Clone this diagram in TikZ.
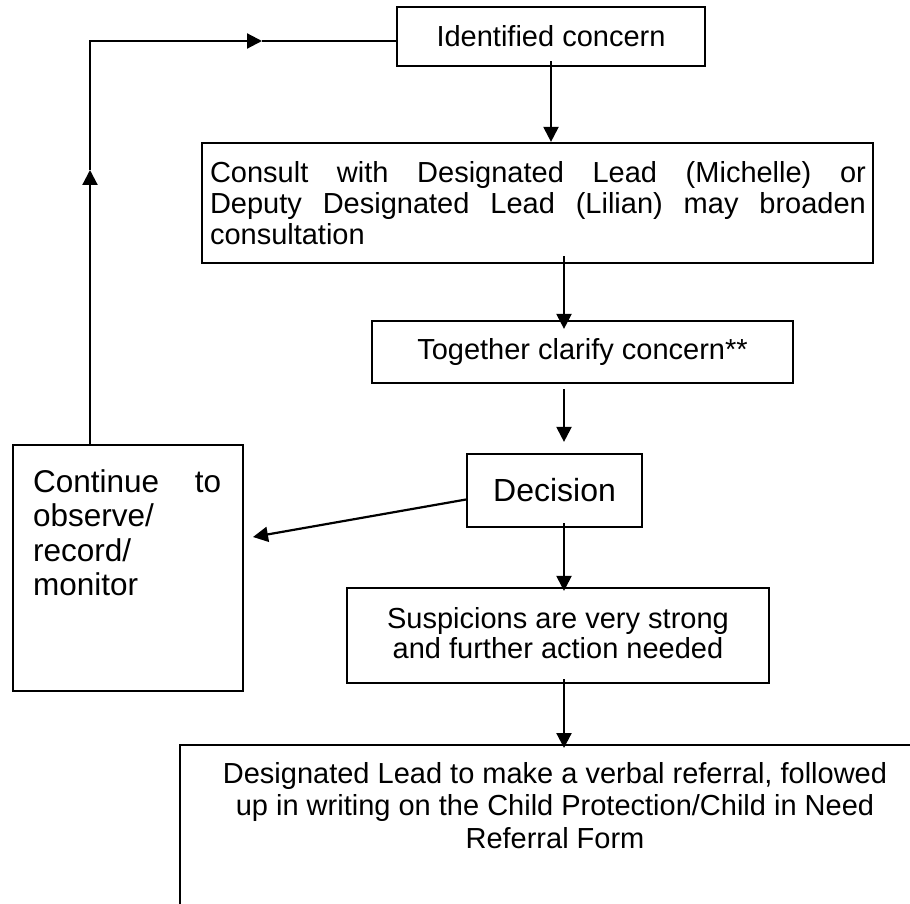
\documentclass[tikz,border=0pt]{standalone}
\usepackage{fontspec}
\setmainfont{Liberation Sans}
\usetikzlibrary{arrows.meta,calc}
\begin{document}
\begin{tikzpicture}[x=1pt,y=-1pt,
  box/.style={draw, line width=2.2pt, rectangle, inner sep=0pt, font=\fontsize{29}{31}\selectfont},
  bigbox/.style={box, font=\fontsize{32}{35}\selectfont},
  txt/.style={inner sep=0pt, font=\fontsize{29}{31}\selectfont},
  bigtxt/.style={inner sep=0pt, font=\fontsize{31.5}{34.5}\selectfont},
  conn/.style={line width=2.2pt, -{Triangle[length=15pt,width=15pt]}},
  plainline/.style={line width=2.2pt}]
\clip (0,0) rectangle (910,904);
\fill[white] (0,0) rectangle (910,904);
% boxes
\node[box, minimum width=308pt, minimum height=59pt] (b1) at (551,36.5) {Identified concern};
\node[box, minimum width=671pt, minimum height=120pt] (b2) at (537.5,203) {};
\node[txt, text width=656pt, align=justify, anchor=north] (t2) at (538,161)
  {Consult with Designated Lead (Michelle) or\linebreak Deputy Designated Lead (Lilian) may broaden\linebreak consultation};
\node[box, minimum width=421pt, minimum height=62pt] (b3) at (582.5,352) {Together clarify concern**};
\node[bigbox, minimum width=175pt, minimum height=73pt] (b4) at (554.5,490.5) {Decision};
\node[box, minimum width=230pt, minimum height=246pt, anchor=north west] (b5) at (12,444) {};
\node[bigtxt, text width=188pt, align=justify, anchor=north west] (t5) at (33,469)
  {Continue to\linebreak observe/\\record/\\monitor};
\node[box, minimum width=422pt, minimum height=95pt] (b6) at (558,635.5) {};
\node[txt, font=\fontsize{29}{30}\selectfont, align=center, anchor=north] (t6) at (558,607)
  {Suspicions are very strong\\and further action needed};
\node[box, minimum width=752pt, minimum height=220pt, anchor=north west] (b7) at (179,744) {};
\node[txt, font=\fontsize{29}{32.5}\selectfont, align=center, anchor=north] (t7) at (555,762)
  {Designated Lead to make a verbal referral, followed\\up in writing on the Child Protection/Child in Need\\Referral Form};
% helper coordinates
\coordinate (sp) at (564,0);
\coordinate (lx) at (90,41);
\coordinate (up) at (90,170);
\coordinate (rt) at (262,41);
\coordinate (tip5) at (253,537);
% connectors
\draw[conn] ($(b1.south)+(0,-6)$) -- (b2.north -| b1.south);
\draw[conn] ($(b2.south -| sp)+(0,-8)$) -- ($(b3.north -| sp)+(0,9)$);
\draw[conn] ($(b3.south -| sp)+(0,5)$) -- ($(b4.north -| sp)+(0,-11)$);
\draw[conn] ($(b4.south -| sp)+(0,-5)$) -- ($(b6.north -| sp)+(0,4)$);
\draw[conn] ($(b6.south -| sp)+(0,-5)$) -- ($(b7.north -| sp)+(0,4)$);
\draw[conn] ($(b4.north west)!0.62!(b4.south west)$) -- (tip5);
\draw[conn] (b5.north -| lx) -- (up);
\draw[conn] (up) -- (lx) -- (rt);
\draw[plainline] (rt) -- (b1.west |- lx);
\end{tikzpicture}
\end{document}
